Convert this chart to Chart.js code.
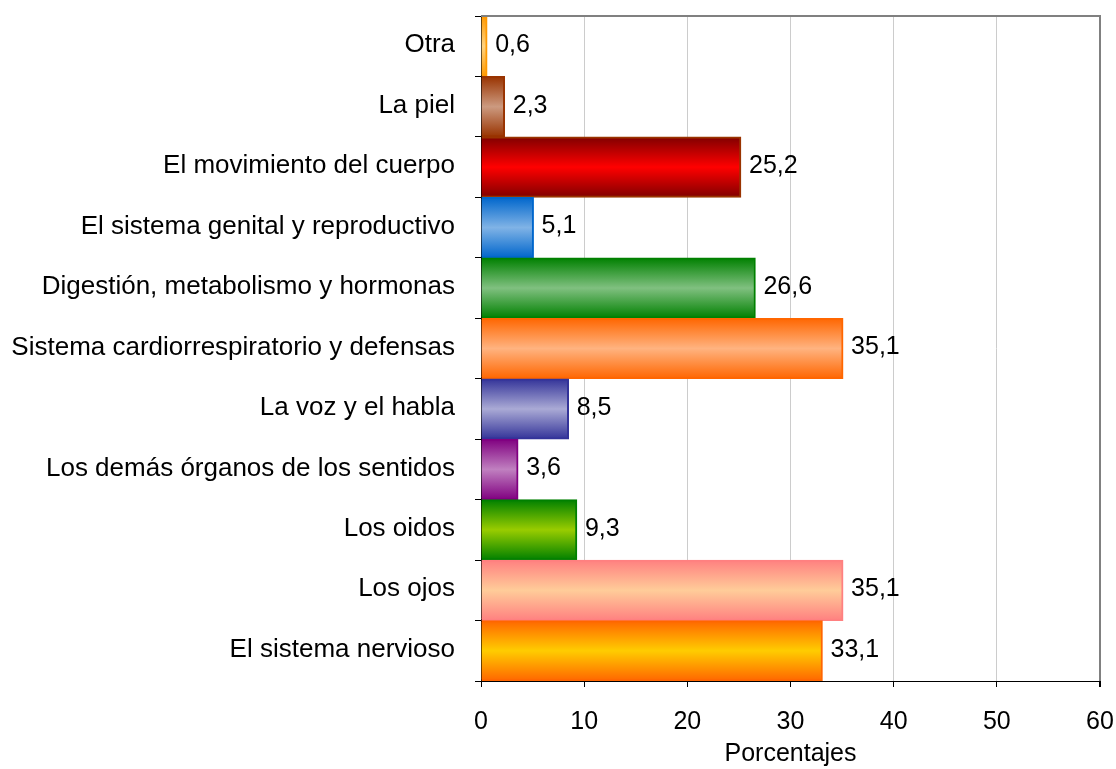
<!DOCTYPE html>
<html>
<head>
<meta charset="utf-8">
<script src="https://cdn.jsdelivr.net/npm/chart.js@4/dist/chart.umd.min.js"></script>
<style>
html,body{margin:0;padding:0;background:#fff;}
#wrap{width:1116px;height:769px;}
</style>
</head>
<body>
<div id="wrap"><canvas id="c" width="1116" height="769"></canvas></div>
<script>
const categories = [
  "Otra",
  "La piel",
  "El movimiento del cuerpo",
  "El sistema genital y reproductivo",
  "Digestión, metabolismo y hormonas",
  "Sistema cardiorrespiratorio y defensas",
  "La voz y el habla",
  "Los demás órganos de los sentidos",
  "Los oidos",
  "Los ojos",
  "El sistema nervioso"
];
const values = [0.6, 2.3, 25.2, 5.1, 26.6, 35.1, 8.5, 3.6, 9.3, 35.1, 33.1];
const edgeColors   = ["#ff9900","#993300","#800000","#0066cc","#008000","#ff6600","#333399","#800080","#008000","#ff8080","#ff6600"];
const centerColors = ["#ffd27f","#cc9a80","#ff0000","#80b3e6","#80c080","#ffb380","#aaaad5","#c080c0","#99cc00","#ffcc99","#ffcc00"];
const borderColors = ["#ff9900","#993300","#993300","#0066cc","#008000","#ff6600","#333399","#800080","#008000","#ff8080","#ff6600"];
const xTicks = [0, 10, 20, 30, 40, 50, 60];

const FONT = "'Liberation Sans', Arial, sans-serif";

const gradientPlugin = {
  id: 'grad',
  beforeDatasetsDraw(chart) {
    const ctx = chart.ctx;
    const meta = chart.getDatasetMeta(0);
    meta.data.forEach((el, i) => {
      const top = el.y - el.height / 2, bot = el.y + el.height / 2;
      const g = ctx.createLinearGradient(0, top, 0, bot);
      g.addColorStop(0, edgeColors[i]);
      g.addColorStop(0.5, centerColors[i]);
      g.addColorStop(1, edgeColors[i]);
      el.options.backgroundColor = g;
    });
  },
  afterDatasetsDraw(chart) {
    const ctx = chart.ctx;
    const meta = chart.getDatasetMeta(0);
    ctx.save();
    ctx.fillStyle = '#000';
    ctx.font = "25px " + FONT;
    ctx.textAlign = 'left';
    ctx.textBaseline = 'middle';
    meta.data.forEach((el, i) => {
      const txt = values[i].toFixed(1).replace('.', ',');
      ctx.fillText(txt, el.x + 8, el.y - 1);
    });
    ctx.restore();
  },
  afterDraw(chart) {
    const a = chart.chartArea;
    const ctx = chart.ctx;
    ctx.save();
    ctx.strokeStyle = '#808080';
    ctx.lineWidth = 2;
    ctx.beginPath();
    ctx.moveTo(a.left, a.top);
    ctx.lineTo(a.right, a.top);
    ctx.lineTo(a.right, a.bottom);
    ctx.stroke();
    ctx.restore();
  }
};

new Chart(document.getElementById('c'), {
  type: 'bar',
  data: {
    labels: categories,
    datasets: [{
      data: values,
      backgroundColor: centerColors,
      borderColor: borderColors,
      borderWidth: 2,
      borderSkipped: 'start',
      barPercentage: 1,
      categoryPercentage: 1
    }]
  },
  options: {
    indexAxis: 'y',
    responsive: false,
    animation: false,
    layout: { padding: { left: 0, right: 16, top: 16, bottom: 0 } },
    plugins: { legend: { display: false }, tooltip: { enabled: false } },
    scales: {
      x: {
        min: 0, max: 60,
        afterFit(s) { s.height = 88; s.paddingLeft = 0; s.paddingRight = 0; },
        afterBuildTicks(s) { s.ticks = xTicks.map(v => ({ value: v })); },
        grid: {
          color: c => (c.tick && c.tick.value === 60) ? '#808080' : '#cccccc',
          lineWidth: c => (c.tick && c.tick.value === 60) ? 2 : 1,
          tickColor: '#000',
          tickLength: 6
        },
        border: { color: '#000', width: 1 },
        ticks: { color: '#000', font: { family: FONT, size: 25 }, padding: 20, maxRotation: 0 },
        title: { display: true, text: 'Porcentajes', color: '#000', font: { family: FONT, size: 25 }, padding: { top: 0, bottom: 0 } }
      },
      y: {
        afterFit(s) { s.width = 481; s.paddingTop = 0; s.paddingBottom = 0; },
        grid: { drawOnChartArea: false, offset: true, tickColor: '#000', tickLength: 6 },
        border: { color: '#000', width: 1 },
        ticks: { color: '#000', font: { family: FONT, size: 26 }, padding: 20, labelOffset: -1 }
      }
    }
  },
  plugins: [gradientPlugin]
});
</script>
</body>
</html>
